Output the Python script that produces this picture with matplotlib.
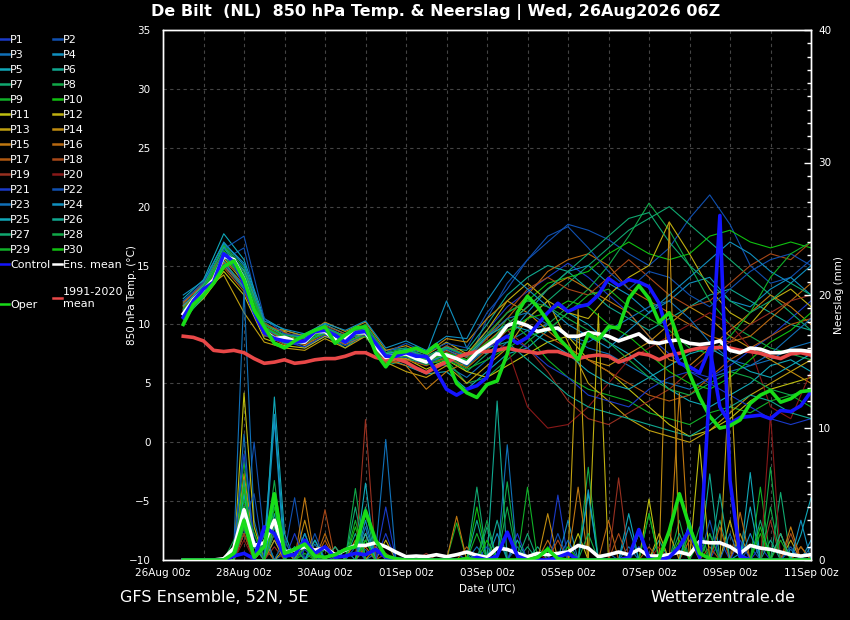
import numpy as np
import pandas as pd
import matplotlib
matplotlib.use('Agg')
import matplotlib.pyplot as plt
import matplotlib.dates as mdates
from matplotlib.lines import Line2D
from matplotlib.ticker import MultipleLocator

# time axes: 6-hourly (26Aug 12z .. 11Sep 00z), member temps read at 12 h steps
times6 = pd.date_range('2026-08-26 12:00', periods=63, freq='6h')
times12 = pd.date_range('2026-08-26 12:00', periods=32, freq='12h')

# ---- main series, 6-hourly ----
mean_temp = [10.9, 12.1, 12.9, 13.8, 15.8, 15.5, 13.8, 11.0, 9.5, 8.8,
             8.9, 8.6, 8.5, 9.4, 9.4, 8.7, 8.8, 9.3, 9.3, 8.1,
             7.2, 7.4, 7.5, 7.1, 6.8, 7.5, 7.4, 7.1, 6.7, 7.6,
             8.2, 8.8, 9.9, 10.2, 9.9, 9.4, 9.6, 9.7, 9.0, 9.0,
             9.3, 9.2, 9.0, 8.6, 8.9, 9.2, 8.5, 8.4, 8.6, 8.7,
             8.4, 8.3, 8.4, 8.6, 7.8, 7.6, 8.0, 7.9, 7.6, 7.6,
             7.8, 7.8, 7.7]
control_temp = [10.6, 12.0, 13.0, 13.6, 16.0, 15.3, 13.5, 11.0, 9.3, 8.8,
                8.6, 8.5, 8.6, 9.4, 9.5, 9.1, 8.5, 9.3, 9.4, 8.4,
                7.3, 7.3, 7.6, 7.3, 7.3, 6.0, 4.5, 4.0, 4.5, 4.8,
                5.5, 8.5, 9.0, 8.4, 8.9, 10.0, 11.0, 11.8, 11.1, 11.5,
                11.7, 12.5, 13.9, 13.3, 13.8, 13.6, 13.2, 11.8, 8.7, 6.7,
                6.4, 5.9, 8.0, 3.0, 1.6, 2.1, 2.2, 2.3, 2.0, 2.7,
                2.6, 3.1, 4.3]
oper_temp = [10.0, 11.7, 12.5, 13.5, 14.9, 15.4, 13.8, 11.2, 9.8, 8.4,
             8.0, 8.6, 9.1, 9.5, 9.8, 8.4, 9.1, 9.7, 9.8, 7.6,
             6.4, 7.6, 7.7, 8.0, 7.6, 8.3, 7.0, 5.0, 4.2, 3.8,
             4.9, 5.2, 7.5, 11.0, 12.4, 11.5, 10.3, 8.9, 8.0, 7.0,
             9.2, 8.7, 9.8, 9.7, 12.2, 13.3, 12.2, 10.2, 11.0, 8.5,
             5.8, 3.8, 2.2, 1.2, 1.4, 1.9, 3.3, 4.0, 4.4, 3.4,
             3.7, 4.3, 4.4]
clim_temp = [9.0, 8.9, 8.6, 7.8, 7.7, 7.8, 7.6, 7.1, 6.7, 6.8,
             7.0, 6.7, 6.8, 7.0, 7.1, 7.1, 7.3, 7.6, 7.6, 7.2,
             7.0, 7.1, 6.8, 6.3, 5.9, 6.4, 6.8, 7.2, 7.5, 7.7,
             7.7, 7.8, 8.0, 7.8, 7.7, 7.55, 7.7, 7.7, 7.4, 7.1,
             7.3, 7.4, 7.3, 6.8, 7.1, 7.55, 7.4, 7.0, 7.4, 7.55,
             7.8, 8.0, 8.0, 8.05, 8.0, 7.8, 7.7, 7.55, 7.3, 7.1,
             7.5, 7.6, 7.4]
mean_prec = [0, 0, 0, 0, 0.1, 0.9, 3.8, 1.1, 1.3, 3.0,
             0.6, 0.75, 1.0, 0.75, 0.9, 0.4, 0.75, 1.1, 1.1, 1.3,
             1.0, 0.6, 0.25, 0.3, 0.25, 0.4, 0.25, 0.4, 0.6, 0.35,
             0.2, 0.9, 0.8, 0.5, 0.25, 0.5, 0.4, 0.5, 0.6, 1.1,
             0.9, 0.25, 0.4, 0.6, 0.4, 0.8, 0.3, 0.3, 0.4, 0.6,
             0.4, 1.4, 1.3, 1.3, 1.0, 0.5, 1.1, 0.9, 0.8, 0.6,
             0.4, 0.3, 0.4]
control_prec = [0, 0, 0, 0, 0, 0.3, 0.5, 0.1, 2.5, 2.0,
                0.3, 0.4, 1.5, 0.5, 1.0, 0.2, 0.3, 0.5, 0.4, 0.8,
                0.2, 0.1, 0, 0, 0, 0, 0, 0, 0, 0.2,
                0, 0.3, 2.1, 0.3, 0, 0, 0, 0.2, 0.5, 0,
                0, 0, 0, 0, 0.2, 2.3, 0.1, 0, 0.2, 1.0,
                2.3, 0.2, 13.1, 26.0, 6.0, 0.3, 0, 0, 0, 0,
                0, 0, 0]
oper_prec = [0, 0, 0, 0, 0, 0.5, 3.0, 0.2, 1.0, 5.0,
             0.5, 0.8, 1.2, 0.3, 0.2, 0.4, 0.8, 1.0, 3.7, 1.5,
             0.3, 0.1, 0, 0, 0, 0, 0, 0, 0.1, 0,
             0, 0, 0, 0, 0, 0.2, 0.8, 0.1, 0, 0,
             0, 0, 0, 0, 0, 0, 0, 0.1, 2.2, 5.0,
             2.5, 0.5, 0.1, 0, 0, 0, 0, 0, 0, 0,
             0, 0, 0]

# ---- perturbed members, temperature at 12 h steps ----
t_p01 = [11.2, 13.0, 16.2, 14.5, 9.8, 8.6, 8.4, 9.8, 8.5, 9.6, 7.0, 7.2, 6.5, 8.0, 7.2, 9.5, 11.5, 12.8, 14.0, 15.2, 14.0, 12.5, 11.0, 9.0, 7.5, 6.0, 5.5, 6.5, 7.8, 9.0, 10.5, 12.0]
t_p02 = [12.0, 13.2, 15.5, 16.5, 9.2, 8.8, 8.0, 9.0, 8.2, 9.0, 7.5, 6.8, 6.0, 7.0, 6.5, 10.5, 13.5, 15.5, 17.0, 18.5, 18.0, 17.2, 16.0, 15.0, 16.5, 19.0, 21.0, 18.5, 15.0, 13.5, 14.0, 15.5]
t_p03 = [10.5, 12.5, 15.0, 13.0, 9.0, 9.2, 8.8, 9.5, 9.0, 9.8, 6.8, 7.8, 7.0, 6.5, 5.5, 7.0, 8.5, 9.5, 10.0, 9.0, 8.0, 7.5, 6.5, 5.5, 5.0, 4.5, 5.5, 6.0, 6.5, 7.0, 8.0, 8.5]
t_p04 = [11.8, 13.5, 17.0, 15.0, 10.0, 9.0, 9.2, 9.6, 8.8, 9.2, 7.8, 8.0, 7.5, 12.0, 8.0, 7.5, 9.0, 11.0, 13.0, 14.5, 15.0, 13.5, 12.5, 11.0, 12.0, 13.5, 14.0, 12.0, 11.5, 13.0, 14.0, 12.5]
t_p05 = [12.2, 13.8, 17.7, 15.5, 10.5, 9.5, 9.0, 10.0, 9.2, 9.5, 7.2, 6.5, 5.8, 6.0, 4.5, 6.0, 7.5, 8.0, 9.5, 11.0, 10.0, 8.5, 7.5, 6.0, 4.5, 3.5, 3.0, 4.0, 5.0, 6.5, 7.0, 6.0]
t_p06 = [11.0, 13.2, 16.5, 14.2, 9.5, 8.4, 8.6, 9.2, 8.0, 9.4, 7.0, 7.4, 7.2, 8.0, 7.8, 10.0, 12.5, 14.0, 15.0, 14.5, 13.0, 11.5, 10.5, 9.5, 10.5, 11.5, 12.5, 13.0, 12.0, 11.0, 10.0, 9.5]
t_p07 = [10.8, 12.6, 15.8, 13.5, 9.6, 8.8, 8.2, 9.0, 8.6, 9.0, 6.5, 7.0, 6.8, 7.5, 6.0, 7.5, 9.0, 10.5, 12.0, 13.5, 15.0, 16.5, 18.0, 19.0, 20.0, 18.5, 17.0, 15.5, 14.0, 12.5, 11.0, 9.5]
t_p08 = [11.5, 13.0, 16.8, 14.8, 10.2, 9.0, 8.6, 9.8, 9.0, 10.0, 7.6, 7.6, 7.0, 7.0, 5.0, 5.5, 7.0, 8.5, 10.0, 11.5, 13.0, 15.0, 17.5, 20.3, 18.0, 15.0, 12.0, 10.0, 9.0, 8.0, 7.5, 7.0]
t_p09 = [11.4, 13.4, 16.0, 14.0, 9.9, 8.9, 8.8, 9.3, 8.9, 9.2, 7.3, 7.7, 6.6, 7.3, 6.4, 8.0, 10.5, 9.0, 7.0, 5.5, 4.5, 4.0, 3.5, 2.5, 2.0, 1.5, 2.5, 3.0, 2.5, 3.5, 4.0, 3.0]
t_p10 = [10.2, 12.8, 16.3, 13.8, 9.4, 8.5, 8.6, 9.6, 8.7, 9.3, 7.1, 7.5, 6.9, 7.6, 7.0, 9.0, 11.0, 12.0, 13.5, 14.0, 14.5, 16.0, 17.0, 16.0, 15.5, 16.0, 17.5, 18.0, 17.0, 16.5, 17.0, 16.5]
t_p11 = [10.6, 12.2, 14.5, 12.5, 8.8, 8.2, 8.0, 9.0, 8.4, 9.0, 6.9, 7.1, 6.2, 7.0, 6.0, 5.5, 6.5, 7.5, 8.5, 9.0, 7.0, 6.0, 4.5, 3.0, 1.5, 0.5, 1.0, 2.0, 3.5, 4.5, 5.0, 5.5]
t_p12 = [11.3, 13.1, 15.6, 13.6, 9.7, 9.4, 8.2, 9.5, 9.1, 9.0, 7.4, 7.0, 7.4, 8.5, 7.5, 9.5, 12.0, 13.5, 12.0, 11.0, 10.5, 12.5, 14.0, 15.0, 18.7, 16.0, 13.0, 11.0, 10.0, 12.0, 13.0, 11.5]
t_p13 = [11.6, 12.9, 14.2, 11.0, 8.5, 8.0, 7.8, 8.8, 8.0, 9.0, 6.8, 6.0, 5.5, 6.5, 5.0, 6.5, 8.0, 10.5, 12.0, 8.5, 5.0, 3.5, 2.0, 1.0, 0.5, 0.0, 1.0, 2.5, 4.0, 5.0, 6.0, 7.0]
t_p14 = [11.0, 12.7, 15.3, 14.0, 9.8, 9.5, 9.0, 10.2, 9.4, 10.2, 7.8, 8.2, 7.5, 8.8, 8.5, 10.5, 12.0, 11.0, 9.5, 8.0, 7.0, 6.5, 7.5, 8.5, 10.0, 11.5, 10.5, 9.0, 8.0, 7.0, 6.0, 5.0]
t_p15 = [11.9, 13.3, 15.0, 13.2, 9.3, 8.7, 8.3, 9.1, 8.3, 9.1, 7.0, 6.5, 4.5, 6.0, 6.8, 8.5, 10.0, 11.5, 13.0, 14.0, 13.0, 12.0, 11.0, 9.0, 7.0, 6.5, 8.0, 9.5, 11.0, 12.5, 11.5, 10.0]
t_p16 = [11.5, 13.1, 15.2, 13.4, 9.7, 8.7, 8.7, 9.7, 8.9, 9.6, 7.3, 7.7, 6.9, 7.8, 7.2, 8.8, 10.5, 12.5, 14.5, 15.5, 16.0, 15.0, 13.0, 12.0, 11.0, 10.0, 9.0, 8.5, 9.0, 10.5, 12.0, 13.5]
t_p17 = [10.9, 12.4, 14.8, 12.8, 9.1, 8.3, 8.5, 9.2, 8.5, 9.2, 6.7, 7.0, 6.5, 7.2, 6.3, 7.8, 9.5, 10.0, 9.0, 8.0, 7.0, 6.0, 5.0, 4.0, 3.5, 4.0, 5.5, 7.0, 8.0, 9.0, 10.0, 10.5]
t_p18 = [11.7, 13.6, 16.0, 14.6, 10.1, 9.3, 8.9, 9.9, 9.2, 9.7, 7.5, 7.8, 7.2, 8.2, 7.4, 9.0, 11.0, 13.0, 14.0, 13.0, 12.5, 14.0, 15.5, 14.0, 12.5, 11.5, 12.0, 13.5, 15.0, 16.0, 15.5, 17.0]
t_p19 = [11.1, 12.8, 15.4, 13.9, 9.5, 8.6, 8.3, 9.4, 8.7, 9.4, 7.1, 7.4, 6.8, 7.6, 6.8, 8.4, 9.5, 8.0, 6.0, 3.5, 2.0, 1.5, 2.5, 3.5, 4.5, 6.0, 7.5, 8.5, 10.0, 11.0, 12.0, 12.5]
t_p20 = [11.3, 13.0, 15.9, 13.7, 9.9, 8.9, 8.7, 9.5, 8.8, 9.5, 7.2, 7.6, 7.0, 7.7, 7.0, 8.6, 8.0, 3.0, 1.2, 1.5, 3.0, 5.0, 7.0, 8.0, 9.0, 10.0, 11.0, 10.0, 8.0, 3.0, 2.0, 6.0]
t_p21 = [10.7, 12.5, 15.1, 13.3, 9.2, 8.5, 8.1, 9.1, 8.4, 9.1, 6.9, 7.3, 6.6, 7.5, 6.5, 8.0, 9.0, 8.0, 6.5, 5.5, 4.0, 3.5, 3.0, 4.5, 5.5, 6.0, 5.0, 4.0, 3.0, 2.0, 1.5, 2.0]
t_p22 = [12.0, 13.6, 16.4, 17.5, 10.5, 9.2, 9.0, 9.8, 9.0, 9.7, 7.6, 8.4, 7.6, 8.4, 8.0, 11.0, 13.0, 15.5, 17.5, 18.3, 16.5, 14.5, 13.0, 14.5, 14.0, 12.5, 11.5, 13.0, 14.5, 15.5, 16.0, 15.0]
t_p23 = [11.0, 12.9, 15.7, 14.3, 9.6, 8.9, 8.5, 9.3, 8.6, 9.5, 7.4, 7.9, 7.1, 7.9, 6.9, 9.0, 10.5, 11.0, 10.0, 9.0, 8.5, 9.5, 10.5, 11.5, 12.0, 10.5, 8.5, 7.0, 6.5, 7.5, 9.0, 10.5]
t_p24 = [12.5, 13.7, 16.9, 15.2, 10.3, 9.6, 9.2, 10.1, 9.5, 10.3, 8.0, 8.6, 7.8, 9.0, 8.8, 12.0, 14.5, 13.0, 11.5, 10.0, 9.0, 8.0, 9.5, 11.0, 12.5, 14.0, 15.5, 17.0, 16.0, 14.5, 13.5, 15.0]
t_p25 = [11.6, 13.3, 16.6, 14.6, 10.0, 9.1, 8.9, 9.7, 9.0, 9.6, 7.5, 7.9, 7.3, 8.1, 7.3, 9.0, 10.0, 9.5, 8.5, 7.5, 6.0, 5.0, 4.5, 5.5, 6.5, 7.5, 8.0, 7.0, 6.0, 5.5, 6.5, 7.5]
t_p26 = [10.4, 12.3, 15.4, 13.1, 9.3, 8.4, 8.4, 9.4, 8.4, 9.3, 7.0, 7.3, 6.8, 7.4, 6.7, 8.0, 8.5, 7.0, 5.5, 4.0, 3.0, 2.5, 2.0, 1.5, 1.0, 0.5, 1.5, 3.0, 4.0, 3.5, 2.5, 2.0]
t_p27 = [11.2, 13.1, 16.1, 14.1, 9.8, 8.8, 8.6, 9.6, 8.8, 9.4, 7.3, 7.6, 7.0, 7.5, 6.9, 8.3, 10.0, 11.5, 13.0, 14.5, 16.0, 17.5, 19.0, 19.5, 17.0, 15.0, 13.5, 12.0, 11.0, 12.0, 13.5, 12.5]
t_p28 = [11.3, 13.2, 16.7, 14.4, 10.0, 9.1, 8.8, 9.7, 9.0, 9.9, 7.6, 8.0, 7.3, 8.0, 7.4, 9.2, 11.0, 12.0, 11.5, 10.5, 9.5, 8.5, 7.0, 5.5, 4.5, 4.0, 5.0, 6.0, 5.5, 4.5, 4.0, 4.5]
t_p29 = [10.1, 12.7, 16.0, 13.6, 9.5, 8.5, 8.5, 9.2, 8.6, 9.0, 7.0, 7.3, 6.6, 7.0, 6.2, 7.0, 8.0, 9.0, 9.5, 11.0, 12.5, 13.0, 11.5, 10.5, 9.5, 8.0, 7.5, 9.0, 11.0, 14.0, 16.0, 17.0]
t_p30 = [11.0, 13.0, 15.9, 13.9, 9.8, 8.9, 8.6, 9.5, 8.9, 9.3, 7.4, 7.6, 6.9, 7.6, 7.0, 8.5, 9.5, 10.5, 11.0, 12.0, 11.5, 10.0, 9.0, 7.5, 6.0, 5.0, 4.5, 5.5, 7.0, 8.5, 9.5, 11.0]

# ---- perturbed members, precipitation at 6 h steps ----
r_p01 = [0, 0, 0, 0, 0, 0.5, 3.5,  1.0, 0.4, 2.0, 0, 0, 0.8, 0,  0.3, 0, 0, 1.0, 0, 0, 4.0,  0, 0, 0, 0, 0, 0, 0.5,  0, 0, 0, 0, 0, 0, 0,  0, 0, 4.9, 0, 0, 0, 0,  0, 0, 0, 1.0, 0, 0, 0,  0, 2.5, 0, 0, 1.5, 0, 0,  0, 1.0, 0, 0, 0, 0, 0]
r_p02 = [0, 0, 0, 0, 0, 0, 2.0,  8.9, 1.5, 0, 0.5, 4.7, 0, 0,  1.0, 0, 0, 0, 0.8, 0, 0,  0, 0, 0, 0, 0, 0, 0,  0, 0, 0, 0, 0, 1.0, 0,  0, 0, 0, 0, 0, 0, 0,  0.5, 0, 0, 0, 0, 0, 0,  0, 0, 0, 2.0, 0, 0, 0,  1.0, 0, 0, 0, 0, 0, 0]
r_p03 = [0, 0, 0, 0, 0, 1.0, 20.4,  3.0, 0, 1.5, 0, 0, 0, 1.2,  0, 0, 0, 0, 0, 0.5, 9.1,  0, 0, 0, 0, 0, 0, 0,  0, 0, 0, 0, 8.7, 0, 0,  0, 0, 0, 0, 0, 0, 0,  0, 0, 1.0, 0, 0, 0, 0,  0, 0, 0, 0, 0, 0, 0,  0, 0, 0, 0, 0.8, 0, 0]
r_p04 = [0, 0, 0, 0, 0, 0, 4.0,  0, 1.2, 11.0, 1.0, 0, 2.0, 0,  0, 0, 0.8, 0, 1.5, 0, 0,  0, 0, 0, 0, 0, 0, 0,  0, 0, 0, 0, 0, 0, 0,  0, 0, 0, 3.0, 0, 5.3, 0,  0, 0, 0, 0, 0, 0, 0,  0, 0, 0, 0, 0, 0, 0.5,  0, 0, 0, 0, 0, 0, 1.5]
r_p05 = [0, 0, 0, 0, 0, 0.8, 6.0,  0, 0, 12.3, 2.0, 0, 0, 1.5,  0, 0, 0, 0, 5.8, 0, 0,  0, 0, 0, 0, 0, 0, 0,  0, 0.5, 0, 0, 0, 1.5, 0,  0, 0, 0, 0, 0, 0, 0,  0, 0, 3.5, 0, 0, 0, 0,  0, 0, 0, 0, 0, 0, 0,  6.6, 0, 0, 0, 0, 1.9, 4.7]
r_p06 = [0, 0, 0, 0, 0, 0, 2.5,  1.5, 0, 3.5, 0, 0, 1.0, 0,  0, 0, 0, 2.0, 0, 0, 0,  0, 0, 0, 0, 0, 0, 0,  0, 0, 0, 12.0, 0, 0, 0,  1.0, 0, 0, 0, 0, 0, 0,  0, 0, 0, 0, 0, 1.5, 0,  0, 0, 0, 6.5, 0, 0, 0,  0, 0, 1.5, 0, 0, 0, 0]
r_p07 = [0, 0, 0, 0, 0, 0, 5.0,  0, 2.0, 0, 0, 0, 0, 0.7,  0, 0, 0, 0, 4.0, 0, 0,  0, 0, 0, 0, 0, 0, 0,  0, 5.5, 0, 0, 0, 0, 1.0,  0, 0, 0, 0, 0, 0, 0,  0, 0, 0, 2.0, 0, 0, 0,  0, 0, 0, 0, 3.0, 0, 0,  0, 0, 0, 5.1, 0, 0, 0]
r_p08 = [0, 0, 0, 0, 0, 1.5, 3.0,  0, 0, 6.0, 0, 1.0, 0, 0,  0, 0, 0, 5.4, 0, 0, 0,  0, 0, 0, 0, 0, 0, 0,  0, 0, 3.0, 0, 5.9, 0, 0,  0, 0, 0, 0, 0, 7.0, 0,  0, 0, 0, 0, 0, 0, 0,  3.0, 0, 0, 0, 0, 0, 0,  0, 0, 7.0, 0, 0, 0, 0]
r_p09 = [0, 0, 0, 0, 0, 0, 4.5,  2.0, 0, 0, 1.5, 0, 0, 0,  0.8, 0, 0, 0, 0, 0, 0,  0, 0, 0, 0, 0, 0, 2.8,  0, 0, 0, 0, 0, 0, 5.5,  0, 0, 0, 0, 0, 0, 0,  0, 0, 0, 0, 3.5, 0, 0,  0, 0, 1.5, 0, 0, 0, 0,  0, 5.5, 0, 0, 0, 0, 0]
r_p10 = [0, 0, 0, 0, 0, 0, 7.5,  0, 0, 4.0, 0, 0, 0.5, 0,  0, 0, 0, 2.5, 0, 0, 0,  0, 0, 0, 0, 0, 0, 0,  0, 4.0, 0, 0, 0, 0, 0,  0, 1.0, 0, 0, 0, 0, 0,  0, 0, 0, 0, 0, 0, 0,  0, 2.0, 0, 0, 0, 0, 0,  0, 2.0, 0, 0, 0, 0, 0]
r_p11 = [0, 0, 0, 0, 0, 0, 12.6,  2.5, 0, 3.0, 0, 0, 1.5, 0,  0, 0, 0, 0, 2.0, 0, 0,  0, 0, 0, 0, 0, 0, 0,  0, 0, 0, 0, 0, 0, 0,  0, 0, 0, 0, 2.0, 0, 0,  0, 0, 0, 0, 4.6, 0, 0,  0, 0, 8.7, 0, 0, 0, 0,  0, 0, 0, 2.0, 0, 0, 0]
r_p12 = [0, 0, 0, 0, 0, 0, 4.0,  0, 1.0, 0, 0.8, 0, 0, 0,  0, 0, 0, 0, 0, 0, 1.5,  0, 0, 0, 0, 0, 0, 0,  0, 0, 0, 0, 0, 0, 0,  0, 0, 0, 0, 0, 0, 18.6,  0, 0, 0, 0, 0, 2.0, 0,  0, 0, 0, 0, 0, 3.0, 0,  0, 0, 0, 0, 0, 1.0, 0]
r_p13 = [0, 0, 0, 0, 0, 0, 2.0,  0, 0, 1.5, 0, 0, 0, 0,  0, 1.0, 0, 0, 0, 0, 0,  0, 0, 0, 0, 0, 0, 0,  0, 0, 0, 0, 0, 0, 0,  0, 0, 0, 0, 18.9, 0, 0,  0, 0, 0, 0, 0, 0, 2.0,  0, 0, 0, 0, 0, 14.6, 0,  0, 0, 0, 0, 1.5, 0, 0]
r_p14 = [0, 0, 0, 0, 0, 0, 6.5,  1.0, 0, 0, 0, 0, 3.0, 0,  0, 0, 0, 0, 0, 1.0, 0,  0, 0, 0, 0, 0, 0, 0,  0, 0, 0, 0, 0, 0, 0,  0, 3.5, 0, 0, 0, 0, 0,  0, 0, 0, 0, 0, 0, 25.5,  0, 0, 0, 0, 0, 0, 2.0,  0, 0, 0, 0, 0, 0, 0]
r_p15 = [0, 0, 0, 0, 0, 0, 3.0,  0, 0, 2.5, 0, 0, 4.7, 0,  0, 0, 0, 1.5, 0, 0, 0,  0, 0, 0, 0, 0, 0, 3.3,  0, 0, 0, 0, 0, 0, 0,  0, 0, 0, 0, 5.5, 0, 0,  0, 0, 0, 0, 0, 0, 0,  12.6, 0, 0, 0, 0, 0, 0,  0, 0, 0, 0, 2.5, 0, 0]
r_p16 = [0, 0, 0, 0, 0, 0, 2.5,  0, 1.0, 0, 0, 0, 0, 0,  2.0, 0, 0, 0, 1.0, 0, 0,  0, 0, 0, 0, 0, 0, 0,  0, 0, 0, 0, 0, 0, 0,  0, 1.5, 0, 0, 0, 0, 0,  3.0, 0, 0, 0, 0, 0, 0,  0, 1.5, 0, 0, 0, 0, 3.6,  0, 0, 0, 0, 0, 0, 0]
r_p17 = [0, 0, 0, 0, 0, 0.5, 5.5,  0, 0, 2.0, 0, 0, 0, 0,  1.5, 0, 0, 0, 0, 0, 0,  0, 0, 0, 0, 0, 0, 0,  1.0, 0, 0, 0, 0, 0, 0,  0, 0, 0, 0, 0, 0, 0,  0, 0, 0, 0, 1.0, 0, 0,  0, 0, 0, 0, 2.5, 0, 0,  0, 0, 0, 0, 0, 1.0, 0]
r_p18 = [0, 0, 0, 0, 0, 0, 3.5,  1.0, 0, 0, 0, 0, 0, 0,  3.8, 0, 0, 0, 0, 0, 0.5,  0, 0, 0, 0, 0, 0, 0,  0, 0, 0, 0, 0, 0, 0,  0, 0, 1.5, 0, 0, 0, 0,  0, 2.0, 0, 0, 0, 0, 0,  0, 0, 0, 1.0, 0, 0, 0,  0, 0, 0, 0, 2.0, 0, 0]
r_p19 = [0, 0, 0, 0, 0, 0, 2.0,  0, 0, 1.0, 0, 0, 0, 0,  0, 0, 0, 0, 10.6, 0, 0,  0, 0, 0, 0.5, 0, 0, 0,  0, 0, 0, 0, 0, 0, 0,  0, 0, 0, 0, 0, 0, 0,  0, 6.2, 0, 0, 0, 0, 0,  0, 0, 0, 0, 0, 0, 0,  0, 0, 3.0, 0, 0, 0, 0]
r_p20 = [0, 0, 0, 0, 0, 0, 1.5,  0, 0, 0, 0, 0, 1.0, 0,  1.0, 0, 0, 0, 0, 0, 0,  0, 0, 0, 0, 0, 0, 0,  0, 0, 0, 0, 0, 0, 0,  0.5, 0, 0, 0, 0, 0, 0,  0, 0, 0, 0, 0, 1.0, 0,  0, 0, 0, 0, 0, 0, 0,  0, 0, 11.0, 0, 0, 0, 0]
r_p21 = [0, 0, 0, 0, 0, 1.0, 8.0,  1.5, 0, 0, 0, 2.0, 0, 0,  0, 0, 0, 0, 0, 0, 2.0,  0, 0, 0, 0, 0, 0, 0,  0, 0, 0, 0, 0, 2.0, 0,  0, 0, 0, 0, 0, 0, 0,  0, 0, 0, 1.0, 0, 0, 0,  0, 0, 0, 0, 0, 0, 1.5,  0, 0, 0, 0, 0, 0, 0]
r_p22 = [0, 0, 0, 0, 0, 0, 3.0,  5.0, 0, 0, 1.5, 0, 0, 2.0,  0, 0, 0, 1.0, 0, 0, 0,  0, 0, 0, 0, 0, 0, 0,  0, 0, 1.0, 0, 0, 0, 0,  0, 0, 2.0, 0, 0, 0, 0,  0, 0, 0, 0, 0, 0, 0,  0, 0, 0, 3.0, 0, 0, 0,  0, 0, 0, 0, 1.0, 0, 0]
r_p23 = [0, 0, 0, 0, 0, 0, 9.5,  0, 2.0, 0, 0, 1.0, 0, 0,  0, 0, 0, 0, 2.5, 0, 0,  0, 0, 0, 0, 0, 0, 0,  0, 1.0, 0, 0, 0, 0, 0,  0, 0, 0, 1.5, 0, 0, 0,  0, 0, 0, 0, 0, 0, 0,  0, 0, 0, 0, 0, 2.0, 0,  0, 0, 0, 0, 0, 0, 1.0]
r_p24 = [0, 0, 0, 0, 0, 0, 4.0,  0, 0, 10.5, 0, 0, 2.0, 0,  0, 0, 0, 0, 3.0, 0, 0,  0, 0, 0, 0, 0, 0, 0,  0, 0, 0, 2.0, 0, 0, 0,  0, 0, 0, 0, 0, 0, 0,  0, 0, 2.5, 0, 0, 0, 0,  0, 0, 0, 0, 0, 0, 0,  2.0, 0, 0, 0, 0, 3.0, 0]
r_p25 = [0, 0, 0, 0, 0, 0, 5.0,  1.0, 0, 4.5, 0, 0, 0, 1.5,  0, 0, 0, 0, 2.0, 0, 0,  0, 0, 0, 0, 0, 0, 0,  0, 0, 0, 0, 0, 0, 0,  0, 0, 0, 0, 0, 5.0, 0,  0, 0, 0, 0, 0, 0, 0,  0, 3.0, 0, 0, 0, 0, 0,  4.0, 0, 0, 0, 0, 0, 0]
r_p26 = [0, 0, 0, 0, 0, 0, 3.5,  0, 0, 2.5, 0, 0, 0, 0,  0, 1.0, 0, 0, 0, 0, 0,  0, 0, 0, 0, 0, 0, 0,  0, 3.0, 0, 3.0, 0, 0, 0,  0, 0, 0, 0, 0, 0, 0,  0, 0, 0, 2.0, 0, 0, 0,  0, 0, 0, 0, 5.0, 0, 0,  0, 0, 0, 2.0, 0, 0, 0]
r_p27 = [0, 0, 0, 0, 0, 0, 6.0,  0, 1.5, 5.0, 0, 0, 0, 0,  0, 0, 0, 4.0, 0, 0, 0,  0, 0, 0, 0, 0, 0, 0,  0, 0, 2.5, 0, 0, 0, 2.0,  0, 0, 0, 0, 0, 0, 0,  0, 0, 0, 0, 0, 0, 0,  2.0, 0, 0, 0, 0, 0, 0,  0, 3.0, 0, 0, 0, 0, 0]
r_p28 = [0, 0, 0, 0, 0, 0, 2.5,  0, 0, 2.0, 0, 1.0, 0, 0,  0, 0, 0, 0, 1.5, 0, 0,  0, 0, 0, 0, 0, 0, 0,  0, 0, 0, 0, 4.0, 0, 0,  0, 0, 0, 0, 0, 2.0, 0,  0, 0, 0, 0, 0, 0, 0,  0, 0, 2.5, 0, 0, 0, 0,  0, 0, 4.0, 0, 0, 0, 0]
r_p29 = [0, 0, 0, 0, 0, 0, 4.0,  2.0, 0, 0, 0, 0, 1.0, 0,  0, 0, 0, 3.0, 0, 0, 0,  0, 0, 0, 0, 0, 0, 0,  0, 2.0, 0, 0, 0, 0, 0,  0, 0, 0, 0, 0, 0, 0,  0, 0, 0, 0, 3.5, 0, 0,  0, 0, 0, 2.0, 0, 0, 0,  0, 0, 0, 1.5, 0, 0, 0]
r_p30 = [0, 0, 0, 0, 0, 0, 5.5,  0, 0, 3.0, 0, 0, 0, 0,  1.0, 0, 0, 0, 1.5, 0, 0,  0, 0, 0, 0, 0, 0, 0,  0, 0, 1.5, 0, 0, 0, 0,  0, 0, 0, 1.0, 0, 0, 0,  0, 0, 0, 0, 0, 0, 0,  1.5, 0, 0, 0, 0, 0, 0,  0, 2.5, 0, 0, 0, 0, 0]

member_temps = [t_p01, t_p02, t_p03, t_p04, t_p05, t_p06, t_p07, t_p08, t_p09, t_p10,
                t_p11, t_p12, t_p13, t_p14, t_p15, t_p16, t_p17, t_p18, t_p19, t_p20,
                t_p21, t_p22, t_p23, t_p24, t_p25, t_p26, t_p27, t_p28, t_p29, t_p30]
member_precs = [r_p01, r_p02, r_p03, r_p04, r_p05, r_p06, r_p07, r_p08, r_p09, r_p10,
                r_p11, r_p12, r_p13, r_p14, r_p15, r_p16, r_p17, r_p18, r_p19, r_p20,
                r_p21, r_p22, r_p23, r_p24, r_p25, r_p26, r_p27, r_p28, r_p29, r_p30]

# 20 member colours, P21..P30 reuse the first ten
palette = ['#1a3ac8', '#1050b0', '#1070b8', '#1090c0', '#10a8b8',
           '#10a890', '#10a870', '#10a848', '#10b028', '#10c010',
           '#c0c010', '#c0b010', '#c0a010', '#c08c10', '#c07810',
           '#b86810', '#b05810', '#a84818', '#983020', '#881818']
member_colors = [palette[i % 20] for i in range(30)]
CONTROL_C = '#1414ff'
OPER_C = '#18dc18'
CLIM_C = '#e84848'

for n, (tt, rr) in enumerate(zip(member_temps, member_precs)):
    if len(tt) != len(times12) or len(rr) != len(times6):
        raise ValueError('member P%d has wrong length: %d / %d' % (n + 1, len(tt), len(rr)))

fig = plt.figure(figsize=(8.5, 6.2), dpi=100, facecolor='black')
ax = fig.add_axes([163 / 850, 60 / 620, 648 / 850, 530 / 620])
ax.set_facecolor('black')
ax2 = ax.twinx()

# thin member lines (precip drawn on the temp axes so thick lines end up on top)
for tt, c in zip(member_temps, member_colors):
    ax.plot(times12, tt, color=c, lw=0.8)
for rr, c in zip(member_precs, member_colors):
    ax.plot(times6, rr, color=c, lw=0.8, transform=ax2.transData)

# thick lines
ax2.plot(times6, clim_temp, color=CLIM_C, lw=2.6, transform=ax.transData)
ax2.plot(times6, mean_temp, color='white', lw=2.6, transform=ax.transData)
ax2.plot(times6, control_temp, color=CONTROL_C, lw=2.6, transform=ax.transData)
ax2.plot(times6, oper_temp, color=OPER_C, lw=2.6, transform=ax.transData)
ax2.plot(times6, mean_prec, color='white', lw=2.6)
ax2.plot(times6, control_prec, color=CONTROL_C, lw=2.6)
ax2.plot(times6, oper_prec, color=OPER_C, lw=2.6)
ax.set_xlim(pd.Timestamp('2026-08-26'), pd.Timestamp('2026-09-11'))
ax.set_ylim(-10, 35)
ax2.set_ylim(0, 40)

# axes styling
major_days = pd.date_range('2026-08-26', '2026-09-11', freq='2D')
minor_days = pd.date_range('2026-08-26', '2026-09-11', freq='1D')
ax.set_xticks(major_days)
ax.set_xticks(minor_days, minor=True)
ax.xaxis.set_major_formatter(mdates.DateFormatter('%d%b %Hz'))
ax.yaxis.set_major_locator(MultipleLocator(5))
grid_kw = dict(color='#444444', lw=0.8, ls=(0, (3, 3)))
ax.grid(True, which='both', axis='x', **grid_kw)
ax.grid(True, which='major', axis='y', **grid_kw)
ax.set_axisbelow(True)

ax.tick_params(axis='x', which='both', length=0, pad=6, colors='white', labelsize=7.5)
ax.tick_params(axis='y', length=0, pad=9, colors='white', labelsize=7.5)
ax2.yaxis.set_major_locator(MultipleLocator(10))
ax2.yaxis.set_minor_locator(MultipleLocator(1))
ax2.tick_params(axis='y', which='major', direction='in', length=5, width=1, pad=5,
                colors='white', labelsize=7.5)
ax2.tick_params(axis='y', which='minor', direction='in', length=3, width=1, colors='white')
for a in (ax, ax2):
    for sp in a.spines.values():
        sp.set_color('white')
        sp.set_linewidth(1)

ax.set_ylabel('850 hPa Temp. (°C)', color='white', fontsize=7.5)
ax.yaxis.set_label_coords(-0.040, 0.5)
ax2.set_ylabel('Neerslag (mm)', color='white', fontsize=7.5)
ax2.yaxis.set_label_coords(1.035, 0.5)
ax.set_xlabel('Date (UTC)', color='white', fontsize=7.5, labelpad=4)

fig.text(0.513, 0.981, 'De Bilt  (NL)  850 hPa Temp. & Neerslag | Wed, 26Aug2026 06Z',
         ha='center', va='center', color='white', fontsize=11.5, fontweight='bold')
fig.text(120 / 850, 1 - 598 / 620, 'GFS Ensemble, 52N, 5E', ha='left', va='center',
         color='white', fontsize=11.5)
fig.text(650 / 850, 1 - 598 / 620, 'Wetterzentrale.de', ha='left', va='center',
         color='white', fontsize=11.5)

# legend, two columns at the left
leg_kw = dict(loc='upper left', frameon=False, fontsize=8, labelcolor='white',
              handlelength=0.8, handletextpad=0.1, labelspacing=0.45,
              borderpad=0, borderaxespad=0)
h1 = [Line2D([], [], color=member_colors[i], lw=1.8) for i in range(0, 30, 2)]
l1 = ['P%d' % (i + 1) for i in range(0, 30, 2)]
h1.append(Line2D([], [], color=CONTROL_C, lw=1.8))
l1.append('Control')
h2 = [Line2D([], [], color=member_colors[i], lw=1.8) for i in range(1, 30, 2)]
l2 = ['P%d' % (i + 1) for i in range(1, 30, 2)]
h2.append(Line2D([], [], color='white', lw=1.8))
l2.append('Ens. mean')
fig.legend(h1, l1, bbox_to_anchor=(0, 1 - 35 / 620), **leg_kw)
fig.legend(h2, l2, bbox_to_anchor=(53 / 850, 1 - 35 / 620), **leg_kw)
fig.legend([Line2D([], [], color=OPER_C, lw=1.8)], ['Oper'],
           bbox_to_anchor=(0, 1 - 300 / 620), **leg_kw)
fig.legend([Line2D([], [], color=CLIM_C, lw=1.8)], ['1991-2020\nmean'],
           bbox_to_anchor=(53 / 850, 1 - 287 / 620), **leg_kw)

fig.savefig('out.png', dpi=100, facecolor='black')
